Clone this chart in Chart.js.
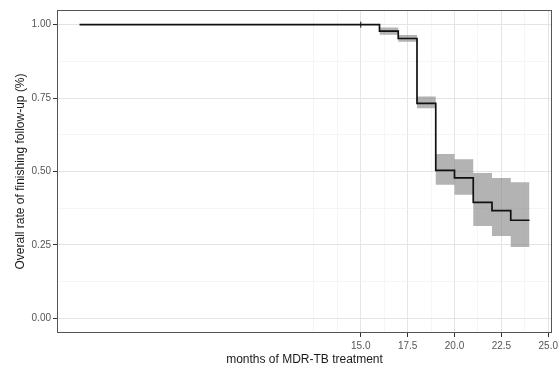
<!DOCTYPE html>
<html>
<head>
<meta charset="utf-8">
<script src="https://cdn.jsdelivr.net/npm/chart.js@4/dist/chart.umd.min.js"></script>
<style>
  html, body { margin: 0; padding: 0; background: #fff; }
  #wrap { width: 558px; height: 372px; }
</style>
</head>
<body>
<div id="wrap"><canvas id="kmChart" width="558" height="372"></canvas></div>
<script>
// survival step curve (months, rate)
var times = [0, 16, 17, 18, 19, 20, 21, 22, 23, 24];
var rate = [1, 0.978, 0.953, 0.732, 0.504, 0.478, 0.395, 0.367, 0.334, 0.334];

// confidence band
var bandTimes = [16, 17, 18, 19, 20, 21, 22, 23, 24];
var upperCI = [0.99, 0.965, 0.755, 0.560, 0.542, 0.495, 0.478, 0.463, 0.463];
var lowerCI = [0.966, 0.942, 0.715, 0.455, 0.421, 0.314, 0.280, 0.243, 0.243];

// censored observation
var censorTimes = [15];
var censorRate = [1];

// axis breaks
var xMajor = [15, 17.5, 20, 22.5, 25];
var xMinor = [12.5, 13.75, 16.25, 18.75, 21.25, 23.75];
var yMajor = [0, 0.25, 0.5, 0.75, 1];
var yMinor = [0.125, 0.375, 0.625, 0.875];

function toPoints(xs, ys) {
    return xs.map(function (x, i) { return { x: x, y: ys[i] }; });
}

function isMajor(list, v) {
    return list.some(function (m) { return Math.abs(m - v) < 1e-9; });
}

// panel border (theme_bw style)
var panelBorder = {
    id: 'panelBorder',
    afterDraw: function (chart) {
        var a = chart.chartArea, c = chart.ctx;
        c.save();
        c.strokeStyle = '#555555';
        c.lineWidth = 1;
        c.strokeRect(Math.round(a.left) + 0.5, Math.round(a.top) + 0.5,
            Math.round(a.right - a.left) - 1, Math.round(a.bottom - a.top) - 1);
        c.restore();
    }
};

var ctx = document.getElementById('kmChart').getContext('2d');
var chart = new Chart(ctx, {
    type: 'line',
    data: {
        datasets: [{
            label: 'upper',
            data: toPoints(bandTimes, upperCI),
            stepped: true,
            borderWidth: 0,
            borderColor: 'rgba(0,0,0,0)',
            backgroundColor: 'rgba(128,128,128,0.6)',
            pointRadius: 0,
            fill: '+1',
            order: 3
        }, {
            label: 'lower',
            data: toPoints(bandTimes, lowerCI),
            stepped: true,
            borderWidth: 0,
            borderColor: 'rgba(0,0,0,0)',
            pointRadius: 0,
            fill: false,
            order: 3
        }, {
            label: 'rate',
            data: toPoints(times, rate),
            stepped: true,
            borderColor: '#111111',
            borderWidth: 1.7,
            pointRadius: 0,
            fill: false,
            order: 1
        }, {
            label: 'censored',
            data: toPoints(censorTimes, censorRate),
            showLine: false,
            pointStyle: 'line',
            rotation: 90,
            pointRadius: 3,
            borderColor: '#111111',
            borderWidth: 1,
            order: 0
        }]
    },
    options: {
        responsive: false,
        animation: false,
        layout: { padding: { left: 0, right: 6, top: 10, bottom: 0 } },
        plugins: {
            legend: { display: false },
            tooltip: { enabled: false }
        },
        scales: {
            x: {
                type: 'linear',
                min: -1.2,
                max: 25.2,
                afterBuildTicks: function (scale) {
                    scale.ticks = xMinor.concat(xMajor).sort(function (a, b) { return a - b; })
                        .map(function (v) { return { value: v }; });
                },
                afterFit: function (scale) {
                    scale.height = 39;
                    // let the last label overhang into the outer margin
                    scale.paddingLeft = 0;
                    scale.paddingRight = 0;
                },
                grid: {
                    color: function (c) { return isMajor(xMajor, c.tick.value) ? '#e4e4e4' : '#f0f0f0'; },
                    lineWidth: function (c) { return isMajor(xMajor, c.tick.value) ? 1 : 0.7; },
                    tickColor: function (c) { return isMajor(xMajor, c.tick.value) ? '#333333' : 'rgba(0,0,0,0)'; },
                    tickLength: 4,
                    drawTicks: true
                },
                border: { display: false },
                ticks: {
                    autoSkip: false,
                    maxRotation: 0,
                    padding: 3,
                    color: '#555555',
                    font: { family: 'Liberation Sans, Arial', size: 10 },
                    callback: function (v) { return isMajor(xMajor, v) ? Number(v).toFixed(1) : ''; }
                },
                title: {
                    display: true,
                    text: 'months of MDR-TB treatment',
                    color: '#1a1a1a',
                    font: { family: 'Liberation Sans, Arial', size: 12 },
                    padding: { top: 0, bottom: 5 }
                }
            },
            y: {
                type: 'linear',
                min: -0.05,
                max: 1.05,
                afterBuildTicks: function (scale) {
                    scale.ticks = yMinor.concat(yMajor).sort(function (a, b) { return a - b; })
                        .map(function (v) { return { value: v }; });
                },
                afterFit: function (scale) {
                    scale.width = 57;
                    scale.paddingTop = 0;
                    scale.paddingBottom = 0;
                },
                grid: {
                    color: function (c) { return isMajor(yMajor, c.tick.value) ? '#e4e4e4' : '#f0f0f0'; },
                    lineWidth: function (c) { return isMajor(yMajor, c.tick.value) ? 1 : 0.7; },
                    tickColor: function (c) { return isMajor(yMajor, c.tick.value) ? '#333333' : 'rgba(0,0,0,0)'; },
                    tickLength: 4,
                    drawTicks: true
                },
                border: { display: false },
                ticks: {
                    autoSkip: false,
                    padding: 2,
                    color: '#555555',
                    font: { family: 'Liberation Sans, Arial', size: 10 },
                    callback: function (v) { return isMajor(yMajor, v) ? Number(v).toFixed(2) : ''; }
                },
                title: {
                    display: true,
                    text: 'Overall rate of finishing follow-up (%)',
                    color: '#1a1a1a',
                    font: { family: 'Liberation Sans, Arial', size: 12 },
                    padding: { top: 13, bottom: 0 }
                }
            }
        }
    },
    plugins: [panelBorder]
});
</script>
</body>
</html>
